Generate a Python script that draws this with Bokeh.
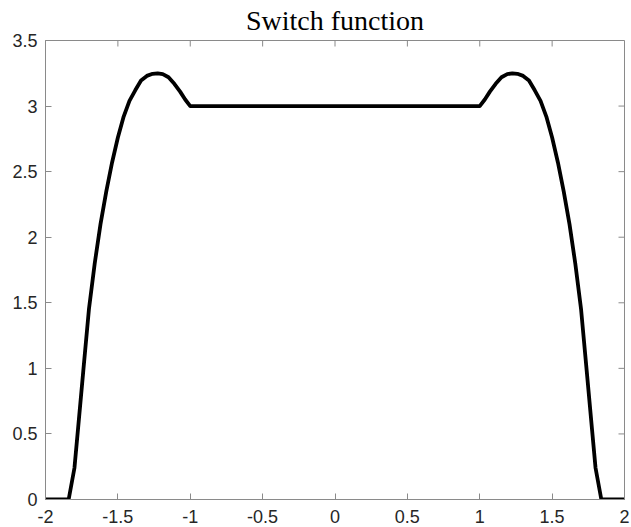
from bokeh.plotting import figure
from bokeh.models import Range1d, FixedTicker
from bokeh.embed import file_html
from bokeh.resources import INLINE

# switch function samples (x, s(x))
x_vals = [-2.0, -1.84, -1.80, -1.776, -1.739, -1.700, -1.660, -1.620, -1.580,
          -1.540, -1.500, -1.460, -1.420, -1.380, -1.340, -1.300, -1.260,
          -1.225, -1.190, -1.150, -1.110, -1.070, -1.035, -1.0,
          1.0, 1.035, 1.070, 1.110, 1.150, 1.190, 1.225, 1.260, 1.300,
          1.340, 1.380, 1.420, 1.460, 1.500, 1.540, 1.580, 1.620, 1.660,
          1.700, 1.739, 1.776, 1.80, 1.84, 2.0]
s_vals = [0.0, 0.0, 0.24, 0.53, 0.98, 1.45, 1.80, 2.10, 2.35,
          2.57, 2.76, 2.92, 3.04, 3.12, 3.195, 3.23, 3.246,
          3.25, 3.244, 3.22, 3.17, 3.11, 3.05, 3.0,
          3.0, 3.05, 3.11, 3.17, 3.22, 3.244, 3.25, 3.246, 3.23,
          3.195, 3.12, 3.04, 2.92, 2.76, 2.57, 2.35, 2.10, 1.80,
          1.45, 0.98, 0.53, 0.24, 0.0, 0.0]

x_ticks = [-2, -1.5, -1, -0.5, 0, 0.5, 1, 1.5, 2]
x_tick_labels = ["-2", "-1.5", "-1", "-0.5", "0", "0.5", "1", "1.5", "2"]
y_ticks = [0, 0.5, 1, 1.5, 2, 2.5, 3, 3.5]
y_tick_labels = ["0", "0.5", "1", "1.5", "2", "2.5", "3", "3.5"]

X_MIN, X_MAX = -2, 2
Y_MIN, Y_MAX = 0, 3.5

TEXT = "#262626"
FRAME = "#8a8a8a"
LABEL_FONT = "Liberation Sans"
TICK_PX = 6

p = figure(width=631, height=527, output_backend="svg", toolbar_location=None,
           x_range=Range1d(X_MIN, X_MAX), y_range=Range1d(Y_MIN, Y_MAX),
           min_border_left=45, min_border_right=7, min_border_top=40,
           min_border_bottom=28)
p.background_fill_color = "white"
p.border_fill_color = "white"
p.outline_line_color = FRAME
p.outline_line_width = 1
p.xgrid.visible = False
p.ygrid.visible = False

p.title.text = "Switch function"
p.title.align = "center"
p.title.vertical_align = "top"
p.title.text_font = "Liberation Serif"
p.title.text_font_size = "28px"
p.title.text_font_style = "normal"
p.title.text_color = "black"
p.title.standoff = 6


def style_axis(ax, ticks, labels):
    ax.ticker = FixedTicker(ticks=ticks)
    ax.major_label_overrides = {t: l for t, l in zip(ticks, labels)}
    ax.axis_line_color = FRAME
    ax.major_tick_line_color = FRAME
    ax.major_tick_in = TICK_PX
    ax.major_tick_out = 0
    ax.minor_tick_line_color = None
    ax.major_label_text_font = LABEL_FONT
    ax.major_label_text_font_size = "18px"
    ax.major_label_text_color = TEXT


style_axis(p.xaxis[0], x_ticks, x_tick_labels)
p.xaxis[0].major_label_standoff = 10
style_axis(p.yaxis[0], y_ticks, y_tick_labels)
p.yaxis[0].major_label_standoff = 8

# box ticks on the top and right edges, pointing inward
frame_w = 631 - 45 - 7
frame_h = 527 - 40 - 28
dy = TICK_PX * (Y_MAX - Y_MIN) / frame_h
dx = TICK_PX * (X_MAX - X_MIN) / frame_w
p.segment(x0=x_ticks, y0=[Y_MAX] * len(x_ticks), x1=x_ticks,
          y1=[Y_MAX - dy] * len(x_ticks), line_color=FRAME, line_width=1)
p.segment(x0=[X_MAX] * len(y_ticks), y0=y_ticks, x1=[X_MAX - dx] * len(y_ticks),
          y1=y_ticks, line_color=FRAME, line_width=1)

p.line(x_vals, s_vals, line_color="black", line_width=3.8,
       line_join="round", line_cap="round")

open("out.html", "w").write(file_html(p, INLINE))
